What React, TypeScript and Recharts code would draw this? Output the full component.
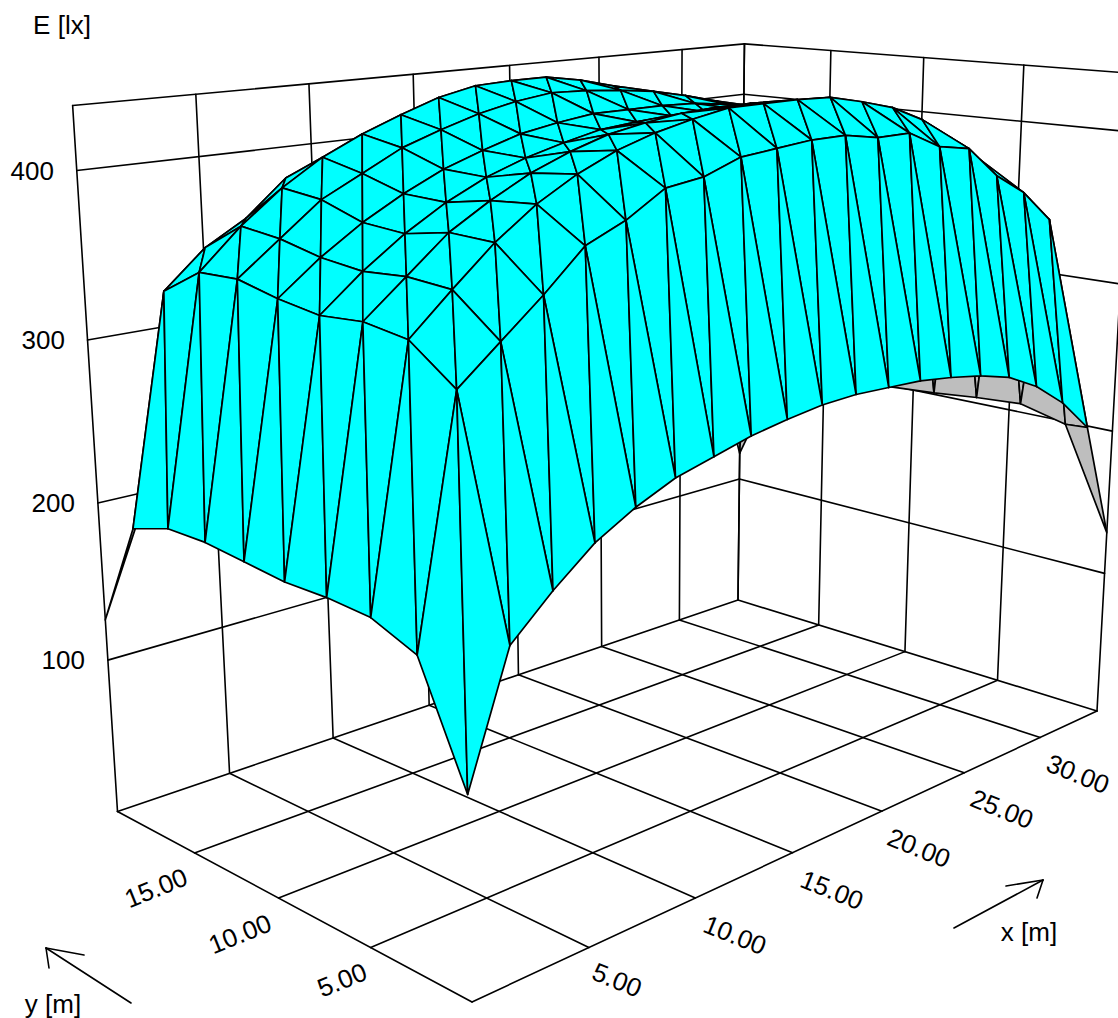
import React from "react";
import { ScatterChart, Scatter, XAxis, YAxis } from "recharts";

// Illuminance E [lx] on the grid: one array per y row, one value per x step
const E_y0 = [116, 188, 210, 229, 242, 252, 258, 264, 268, 271, 272, 271, 270, 267, 263, 257, 246, 230, 208, 129];
const E_y1 = [181, 315, 335, 355, 377, 387, 401, 404, 412, 414, 416, 416, 412, 412, 401, 397, 377, 363, 342, 198];
const E_y2 = [192, 335, 357, 378, 395, 408, 418, 425, 430, 434, 434, 434, 433, 428, 422, 412, 398, 382, 362, 206];
const E_y3 = [194, 339, 359, 379, 393, 405, 414, 421, 425, 428, 429, 429, 428, 425, 419, 410, 399, 384, 366, 204];
const E_y4 = [194, 337, 357, 374, 388, 399, 407, 413, 418, 420, 421, 421, 420, 418, 413, 404, 393, 381, 363, 201];
const E_y5 = [197, 341, 360, 376, 389, 400, 408, 415, 419, 422, 422, 422, 421, 418, 414, 405, 395, 384, 367, 199];
const E_y6 = [200, 347, 366, 385, 397, 409, 417, 424, 429, 432, 431, 429, 426, 421, 415, 407, 398, 387, 370, 198];
const E_y7 = [200, 346, 369, 388, 403, 414, 423, 431, 436, 437, 437, 433, 427, 419, 413, 405, 395, 383, 366, 197];
const E_y8 = [192, 330, 352, 366, 387, 396, 405, 412, 417, 419, 419, 415, 408, 400, 394, 388, 378, 366, 350, 190];
const E_y9 = [126, 190, 205, 222, 237, 247, 255, 262, 266, 269, 270, 270, 268, 265, 260, 254, 244, 228, 205, 121];
const E_ROWS = [E_y0, E_y1, E_y2, E_y3, E_y4, E_y5, E_y6, E_y7, E_y8, E_y9];

const X_MAX = 34;
const Y_MAX = 20;
const E_MAX = 437.4;
const X_TICKS = [5, 10, 15, 20, 25, 30];
const Y_TICKS = [5, 10, 15];
const E_TICKS = [100, 200, 300, 400];

// View: the perspective camera, given by where the box corners fall on the page
const W = 1118;
const H = 1018;
const F = [472, 1002], R = [1097, 711], B = [738, 600], L = [117.5, 811.5], V = [640, 9033];
const dx1 = R[0] - B[0], dx2 = L[0] - B[0], sX = F[0] - R[0] + B[0] - L[0];
const dy1 = R[1] - B[1], dy2 = L[1] - B[1], sY = F[1] - R[1] + B[1] - L[1];
const det = dx1 * dy2 - dx2 * dy1;
const g = (sX * dy2 - dx2 * sY) / det, h = (dx1 * sY - sX * dy1) / det;
const a = R[0] - F[0] + g * R[0], b = L[0] - F[0] + h * L[0], c = F[0];
const d = R[1] - F[1] + g * R[1], e = L[1] - F[1] + h * L[1], f = F[1];
const LAM = -0.09494104105619383;

function project(x: number, y: number, E: number) {
  const u = x / X_MAX, v = y / Y_MAX, z = (E / E_MAX) * LAM;
  const w = g * u + h * v + 1 + z;
  return [(a * u + b * v + c + z * V[0]) / w, (d * u + e * v + f + z * V[1]) / w];
}

const NX = E_y0.length - 1;
const NY = E_ROWS.length - 1;
const vertex = (i: number, j: number) => project((i * X_MAX) / NX, (j * Y_MAX) / NY, E_ROWS[j][i]);

// Surface facets, far corner first
type Facet = { sx: number; sy: number; pts: number[][]; top: boolean };
const facets: Facet[] = [];
function addFacet(p: number[], q: number[], r: number[]) {
  const cross = (q[0] - p[0]) * (r[1] - p[1]) - (q[1] - p[1]) * (r[0] - p[0]);
  facets.push({ sx: p[0], sy: p[1], pts: [p, q, r], top: cross < 0 });
}
for (let i = NX - 1; i >= 0; i--) {
  for (let j = NY - 1; j >= 0; j--) {
    const p00 = vertex(i, j), p10 = vertex(i + 1, j), p11 = vertex(i + 1, j + 1), p01 = vertex(i, j + 1);
    addFacet(p00, p11, p01);
    addFacet(p00, p10, p11);
  }
}

// Box: floor grid, back walls, top edges
const segments: { sx: number; sy: number; to: number[] }[] = [];
function addSeg(p: number[], q: number[]) {
  segments.push({ sx: p[0], sy: p[1], to: q });
}
const P = project;
for (const x of [0, ...X_TICKS, X_MAX]) {
  addSeg(P(x, 0, 0), P(x, Y_MAX, 0));
  addSeg(P(x, Y_MAX, 0), P(x, Y_MAX, E_MAX));
}
for (const y of [0, ...Y_TICKS, Y_MAX]) {
  addSeg(P(0, y, 0), P(X_MAX, y, 0));
  if (y > 0) addSeg(P(X_MAX, y, 0), P(X_MAX, y, E_MAX));
}
for (const E of [...E_TICKS, E_MAX]) {
  addSeg(P(0, Y_MAX, E), P(X_MAX, Y_MAX, E));
  addSeg(P(X_MAX, Y_MAX, E), P(X_MAX, 0, E));
}
addSeg(P(X_MAX, 0, 0), P(X_MAX, 0, E_MAX));

// Arrows next to the axis names
const arrows = [
  [[954, 928], [1043, 880]], [[1043, 880], [1006, 886]], [[1043, 880], [1037, 898]],
  [[131, 1003], [46, 948]], [[46, 948], [84, 955]], [[46, 948], [49, 968]],
].map(([p, q]) => ({ sx: p[0], sy: p[1], to: q }));

const X_TICK_SPOTS = [[617, 980], [735, 935], [832, 890], [919, 848], [1002, 809], [1078, 774]];
const Y_TICK_SPOTS = [[342, 980], [240, 934], [156, 888]];
const E_TICK_RIGHT = [[85, 660], [75, 503], [65, 340], [54, 171]];

const texts = [
  ...X_TICKS.map((t, n) => ({ sx: X_TICK_SPOTS[n][0], sy: X_TICK_SPOTS[n][1], text: t.toFixed(2), angle: 22, anchor: "middle" })),
  ...Y_TICKS.map((t, n) => ({ sx: Y_TICK_SPOTS[n][0], sy: Y_TICK_SPOTS[n][1], text: t.toFixed(2), angle: -22, anchor: "middle" })),
  ...E_TICKS.map((t, n) => ({ sx: E_TICK_RIGHT[n][0], sy: E_TICK_RIGHT[n][1], text: String(t), angle: 0, anchor: "end" })),
  { sx: 62, sy: 25, text: "E [lx]", angle: 0, anchor: "middle" },
  { sx: 1029, sy: 932, text: "x [m]", angle: 0, anchor: "middle" },
  { sx: 53, sy: 1004, text: "y [m]", angle: 0, anchor: "middle" },
];

const lineShape = (props: any) => {
  const { cx, cy, payload } = props;
  return (
    <line
      x1={cx}
      y1={cy}
      x2={cx + payload.to[0] - payload.sx}
      y2={cy + payload.to[1] - payload.sy}
      stroke="#000"
      strokeWidth={1.6}
      strokeLinecap="round"
    />
  );
};

const facetShape = (props: any) => {
  const { cx, cy, payload } = props;
  const pts = payload.pts.map((p: number[]) => `${cx + p[0] - payload.sx},${cy + p[1] - payload.sy}`).join(" ");
  return (
    <polygon points={pts} fill={payload.top ? "#00ffff" : "#bebebe"} stroke="#000" strokeWidth={1.7} strokeLinejoin="round" />
  );
};

const textShape = (props: any) => {
  const { cx, cy, payload } = props;
  return (
    <text
      x={cx}
      y={cy}
      transform={payload.angle ? `rotate(${payload.angle} ${cx} ${cy})` : undefined}
      textAnchor={payload.anchor}
      dominantBaseline="central"
      fontFamily="'Liberation Sans', Arial, sans-serif"
      fontSize={26}
      fill="#000"
    >
      {payload.text}
    </text>
  );
};

export default function App() {
  return (
    <div style={{ position: "absolute", left: 0, top: 0, width: W, height: H, overflow: "hidden", background: "#fff" }}>
      <ScatterChart width={W} height={H} margin={{ top: 0, right: 0, bottom: 0, left: 0 }}>
        <XAxis type="number" dataKey="sx" domain={[0, W]} hide />
        <YAxis type="number" dataKey="sy" domain={[0, H]} reversed hide />
        <Scatter data={segments} shape={lineShape} isAnimationActive={false} />
        <Scatter data={facets} shape={facetShape} isAnimationActive={false} />
        <Scatter data={arrows} shape={lineShape} isAnimationActive={false} />
        <Scatter data={texts} shape={textShape} isAnimationActive={false} />
      </ScatterChart>
    </div>
  );
}
